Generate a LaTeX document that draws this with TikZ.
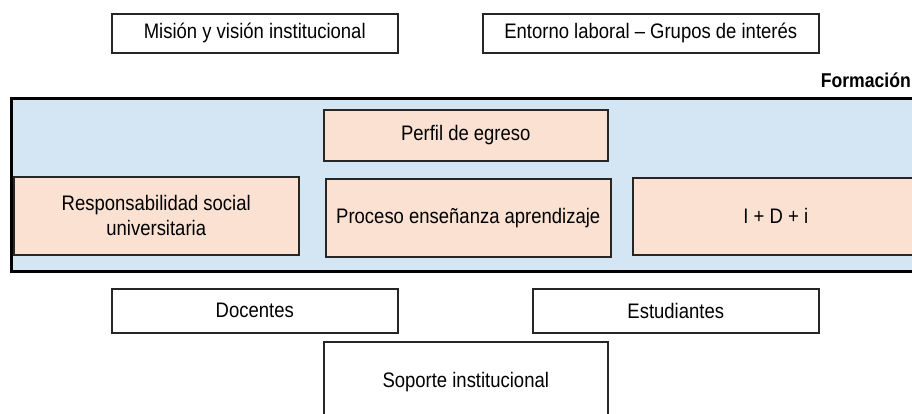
\documentclass[tikz,border=0pt]{standalone}
\usepackage{fontspec}
\setmainfont{Liberation Sans}[FakeStretch=0.88]
\definecolor{bluefill}{HTML}{D4E5F3}
\definecolor{peach}{HTML}{FBE1D2}
\definecolor{edge}{HTML}{262626}
\begin{document}
\begin{tikzpicture}[x=1pt,y=-1pt,
  box/.style={draw=edge, line width=1.5pt, fill=white, anchor=north west, inner sep=0pt, align=center, font=\fontsize{21}{25}\selectfont},
  pbox/.style={box, fill=peach},
  frame/.style={draw=black, line width=3pt, fill=bluefill, anchor=north west, inner sep=0pt}]
\useasboundingbox (0,0) rectangle (912,413);
\node[box, minimum width=286pt, minimum height=39pt] (mision) at (111,13) {Misión y visión institucional};
\node[box, minimum width=336pt, minimum height=39pt] (entorno) at (482,13) {Entorno laboral -- Grupos de interés};
\node[anchor=base east, inner sep=0pt, font=\bfseries\fontsize{20}{22}\selectfont] (formlabel) at (911,87) {Formación};
\node[frame, minimum width=915pt, minimum height=173pt] (formacion) at (10,97) {};
\node[pbox, minimum width=284pt, minimum height=51pt] (perfil) at (323,109) {Perfil de egreso};
\node[pbox, minimum width=285pt, minimum height=78pt] (rsu) at (13,176) {Responsabilidad social\\universitaria};
\node[pbox, minimum width=285pt, minimum height=78pt] (proceso) at (325,178) {Proceso enseñanza aprendizaje};
\node[pbox, minimum width=286pt, minimum height=77pt] (idi) at (632,177) {I + D + i};
\node[box, minimum width=286pt, minimum height=44pt] (docentes) at (111,288) {Docentes};
\node[box, minimum width=286pt, minimum height=44pt] (estudiantes) at (532,288) {Estudiantes};
\node[box, minimum width=284pt, minimum height=81pt] (soporte) at (323,341) {Soporte institucional};
\end{tikzpicture}
\end{document}
